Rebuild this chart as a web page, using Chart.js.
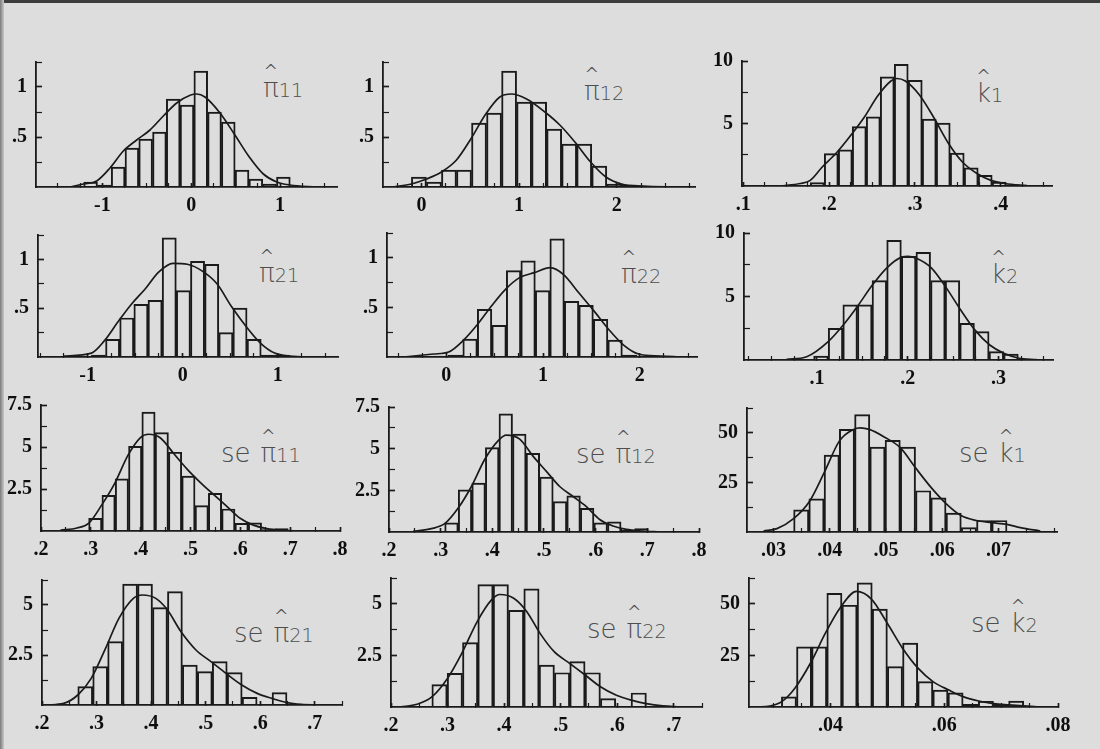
<!DOCTYPE html>
<html lang="en">
<head>
<meta charset="UTF-8">
<title>Sampling distributions of the estimates</title>
<script src="https://cdn.jsdelivr.net/npm/chart.js"></script>
<style>
  body { margin: 0; background: #dddddd; }
  #page { position: relative; width: 1100px; height: 749px; overflow: hidden; background: #dddddd; }
  #page .edgeTop { position: absolute; left: 0; top: 0; width: 1100px; height: 3px; background: #3c3c3c; }
  #page .edgeLeft { position: absolute; left: 0; top: 0; width: 4px; height: 749px; background: linear-gradient(to right, #7a7a7a, #c8c8c8); }
  canvas.panel { position: absolute; }
  .lab { position: absolute; font-family: 'DejaVu Sans'; font-weight: 200; font-size: 26px; line-height: 26px; color: #4e4e4e; white-space: nowrap; }
  .lab .se { margin-right: 10px; }
  .lab .sym { position: relative; }
  .lab .hat { position: absolute; left: 50%; top: -15px; transform: translateX(-50%); font-size: 18px; line-height: 26px; }
  .lab .sub { font-size: 0.74em; }
</style>
</head>
<body>
<div id="page">
  <div class="edgeTop"></div>
  <div class="edgeLeft"></div>

  <div class="lab" style="left:263px;top:75px"><span class="sym">π<span class="hat">^</span></span><span class="sub">11</span></div>
  <div class="lab" style="left:584px;top:78px"><span class="sym">π<span class="hat">^</span></span><span class="sub">12</span></div>
  <div class="lab" style="left:976px;top:80px"><span class="sym">k<span class="hat">^</span></span><span class="sub">1</span></div>
  <div class="lab" style="left:259px;top:260px"><span class="sym">π<span class="hat">^</span></span><span class="sub">21</span></div>
  <div class="lab" style="left:621px;top:261px"><span class="sym">π<span class="hat">^</span></span><span class="sub">22</span></div>
  <div class="lab" style="left:991px;top:261px"><span class="sym">k<span class="hat">^</span></span><span class="sub">2</span></div>
  <div class="lab" style="left:221px;top:440px"><span class="se">se</span><span class="sym">π<span class="hat">^</span></span><span class="sub">11</span></div>
  <div class="lab" style="left:576px;top:441px"><span class="se">se</span><span class="sym">π<span class="hat">^</span></span><span class="sub">12</span></div>
  <div class="lab" style="left:959px;top:440px"><span class="se">se</span><span class="sym">k<span class="hat">^</span></span><span class="sub">1</span></div>
  <div class="lab" style="left:234px;top:620px"><span class="se">se</span><span class="sym">π<span class="hat">^</span></span><span class="sub">21</span></div>
  <div class="lab" style="left:587px;top:616px"><span class="se">se</span><span class="sym">π<span class="hat">^</span></span><span class="sub">22</span></div>
  <div class="lab" style="left:971px;top:610px"><span class="se">se</span><span class="sym">k<span class="hat">^</span></span><span class="sub">2</span></div>
</div>

<script>
// ---- pi11 ----
const pi11Bins = [-1.1325, -0.9775, -0.8225, -0.6675, -0.5125, -0.3575, -0.2025, -0.0475, 0.1075, 0.2625, 0.4175, 0.5725, 0.7275, 0.8825, 1.0375];
const pi11Heights = [0.05, 0.02, 0.2, 0.39, 0.48, 0.55, 0.88, 0.82, 1.16, 0.75, 0.65, 0.17, 0.08, 0.03, 0.1];
const pi11CurveX = [-1.364, -1.214, -1.064, -0.914, -0.764, -0.614, -0.464, -0.314, -0.163, -0.006, 0.062, 0.155, 0.324, 0.485, 0.654, 0.812, 0.962, 1.112, 1.412];
const pi11CurveY = [0, 0.03, 0.06, 0.19, 0.36, 0.47, 0.57, 0.71, 0.84, 0.92, 0.93, 0.9, 0.74, 0.53, 0.3, 0.13, 0.05, 0.02, 0];

// ---- pi12 ----
const pi12Bins = [-0.026, 0.128, 0.282, 0.436, 0.590, 0.744, 0.898, 1.052, 1.206, 1.360, 1.514, 1.668, 1.822, 1.976, 2.130];
const pi12Heights = [0.1, 0.05, 0.17, 0.17, 0.64, 0.74, 1.16, 0.85, 0.85, 0.58, 0.43, 0.43, 0.21, 0.03, 0.02];
const pi12CurveX = [-0.291, -0.103, 0.051, 0.205, 0.359, 0.506, 0.659, 0.803, 0.923, 1.077, 1.265, 1.418, 1.572, 1.733, 1.890, 2.051, 2.273, 2.615];
const pi12CurveY = [0, 0.03, 0.08, 0.15, 0.27, 0.48, 0.73, 0.9, 0.93, 0.88, 0.75, 0.62, 0.45, 0.25, 0.1, 0.03, 0.01, 0];

// ---- k1 ----
const k1Bins = [0.1862, 0.2025, 0.2188, 0.2351, 0.2514, 0.2677, 0.2840, 0.3003, 0.3166, 0.3329, 0.3492, 0.3655, 0.3818, 0.3981, 0.4144];
const k1Heights = [0.27, 2.6, 2.9, 4.75, 5.54, 8.73, 9.73, 8.46, 5.36, 5.04, 2.63, 1.46, 0.85, 0.32, 0.1];
const k1CurveX = [0.1431, 0.1664, 0.1780, 0.1917, 0.2091, 0.2246, 0.2409, 0.2565, 0.2720, 0.2790, 0.2887, 0.3050, 0.3217, 0.3391, 0.3555, 0.3722, 0.3885, 0.4052, 0.4305];
const k1CurveY = [0, 0.2, 0.45, 1.5, 2.7, 4.0, 5.5, 7.2, 8.4, 8.6, 8.4, 7.3, 5.5, 3.4, 1.9, 1.0, 0.45, 0.2, 0.03];

// ---- pi21 ----
const pi21Bins = [-0.8865, -0.7375, -0.5885, -0.4395, -0.2905, -0.1415, 0.0075, 0.1565, 0.3055, 0.4545, 0.6035, 0.7525, 0.9015, 1.0505];
const pi21Heights = [0.02, 0.18, 0.4, 0.54, 0.58, 1.22, 0.68, 0.98, 0.95, 0.25, 0.5, 0.18, 0.02, 0.02];
const pi21CurveX = [-1.260, -0.961, -0.821, -0.681, -0.540, -0.393, -0.253, -0.102, 0.049, 0.207, 0.361, 0.512, 0.670, 0.821, 0.968, 1.126, 1.407];
const pi21CurveY = [0.01, 0.04, 0.17, 0.36, 0.54, 0.7, 0.87, 0.96, 0.95, 0.88, 0.75, 0.52, 0.31, 0.14, 0.04, 0.01, 0];

// ---- pi22 ----
const pi22Bins = [-0.055, 0.095, 0.245, 0.395, 0.545, 0.695, 0.845, 0.995, 1.145, 1.295, 1.445, 1.595, 1.745, 1.895, 2.045];
const pi22Heights = [0.01, 0.02, 0.18, 0.48, 0.32, 0.87, 0.97, 0.67, 1.19, 0.56, 0.52, 0.38, 0.17, 0.02, 0.01];
const pi22CurveX = [-0.442, -0.132, 0.023, 0.178, 0.323, 0.471, 0.609, 0.757, 0.909, 1.074, 1.212, 1.367, 1.522, 1.677, 1.833, 1.988, 2.212, 2.419];
const pi22CurveY = [0, 0.03, 0.05, 0.17, 0.33, 0.52, 0.68, 0.8, 0.85, 0.9, 0.83, 0.65, 0.47, 0.28, 0.12, 0.03, 0.01, 0];

// ---- k2 ----
const k2Bins = [0.1044, 0.1205, 0.1366, 0.1527, 0.1688, 0.1850, 0.2011, 0.2172, 0.2333, 0.2494, 0.2655, 0.2817, 0.2978, 0.3139];
const k2Heights = [0.3, 2.5, 4.34, 4.34, 6.26, 9.42, 8.16, 8.47, 6.26, 6.26, 2.89, 2.24, 0.66, 0.47];
const k2CurveX = [0.0666, 0.0887, 0.1124, 0.1290, 0.1444, 0.1613, 0.1768, 0.1933, 0.2006, 0.2090, 0.2263, 0.2428, 0.2583, 0.2740, 0.2905, 0.3060, 0.3217, 0.3420];
const k2CurveY = [0.05, 0.26, 1.45, 2.76, 4.2, 5.92, 7.24, 8.1, 8.16, 8.03, 7.24, 5.66, 3.95, 2.37, 1.18, 0.53, 0.16, 0.03];

// ---- se pi11 ----
const sePi11Bins = [0.3089, 0.3356, 0.3623, 0.389, 0.4157, 0.4424, 0.4691, 0.4958, 0.5225, 0.5492, 0.5759, 0.6026, 0.6293, 0.656, 0.6827];
const sePi11Heights = [0.75, 2.12, 3.1, 5.04, 7.08, 5.86, 4.69, 3.27, 1.51, 2.24, 1.31, 0.45, 0.49, 0.08, 0.14];
const sePi11CurveX = [0.2387, 0.2722, 0.2955, 0.3223, 0.3490, 0.3744, 0.3991, 0.4157, 0.4392, 0.4658, 0.4927, 0.5194, 0.5460, 0.5729, 0.5996, 0.6262, 0.6531, 0.6864, 0.7198];
const sePi11CurveY = [0.04, 0.18, 0.45, 1.57, 2.9, 4.5, 5.55, 5.76, 5.55, 4.63, 3.7, 2.9, 2.18, 1.47, 0.76, 0.35, 0.14, 0.04, 0];

// ---- se pi12 ----
const sePi12Bins = [0.3209, 0.3472, 0.3734, 0.3997, 0.4260, 0.4522, 0.4785, 0.5047, 0.5310, 0.5573, 0.5835, 0.6098, 0.6360, 0.6623, 0.6886];
const sePi12Heights = [0.55, 2.53, 2.94, 5.06, 7.09, 5.87, 4.72, 3.3, 1.82, 2.17, 1.42, 0.55, 0.61, 0.1, 0.2];
const sePi12CurveX = [0.2465, 0.2821, 0.3078, 0.3336, 0.3595, 0.3852, 0.4110, 0.4272, 0.4530, 0.4787, 0.5046, 0.5304, 0.5561, 0.5820, 0.6078, 0.6335, 0.6594, 0.6916, 0.7239];
const sePi12CurveY = [0.04, 0.2, 0.5, 1.42, 2.73, 4.35, 5.47, 5.81, 5.57, 4.55, 3.64, 2.73, 2.13, 1.52, 0.75, 0.36, 0.16, 0.06, 0];

// ---- se k1 ----
const seK1Bins = [0.03493, 0.03764, 0.04035, 0.04306, 0.04577, 0.04848, 0.05119, 0.0539, 0.05661, 0.05932, 0.06203, 0.06474, 0.06745, 0.07016];
const seK1Heights = [11.2, 16.7, 38.8, 51.7, 59.2, 42.8, 46.2, 42.8, 20.8, 17.2, 9.5, 2.2, 5.8, 5.8];
const seK1CurveX = [0.02824, 0.03062, 0.03357, 0.03642, 0.03903, 0.04170, 0.04424, 0.04543, 0.04703, 0.04975, 0.05254, 0.05521, 0.05800, 0.06072, 0.06333, 0.06605, 0.06884, 0.07151, 0.07388, 0.07743];
const seK1CurveY = [0.5, 1.7, 6.7, 15.5, 30, 45.8, 51.7, 52.5, 51.7, 47.8, 42.5, 32.5, 22.5, 14.2, 8.3, 5.8, 4.7, 3.8, 2.2, 0.5];

// ---- se pi21 ----
const sePi21Bins = [0.2793, 0.3067, 0.3341, 0.3615, 0.3889, 0.4163, 0.4437, 0.4711, 0.4985, 0.5259, 0.5533, 0.5807, 0.6081, 0.6355];
const sePi21Heights = [0.92, 1.92, 3.17, 6.05, 6.05, 4.87, 5.67, 2.0, 1.67, 2.17, 1.62, 0.38, 0, 0.62];
const sePi21CurveX = [0.2092, 0.2398, 0.2656, 0.2902, 0.3165, 0.3410, 0.3675, 0.3841, 0.4086, 0.4301, 0.4546, 0.4822, 0.5098, 0.5374, 0.5663, 0.5945, 0.6216, 0.6492, 0.6755, 0.7063];
const sePi21CurveY = [0, 0.08, 0.5, 1.33, 2.83, 4.33, 5.33, 5.5, 5.33, 4.75, 3.67, 2.75, 2.17, 1.58, 1.0, 0.58, 0.33, 0.12, 0.03, 0];

// ---- se pi22 ----
const sePi22Bins = [0.2858, 0.3129, 0.34, 0.3671, 0.3942, 0.4213, 0.4484, 0.4755, 0.5026, 0.5297, 0.5568, 0.5839, 0.611, 0.6381];
const sePi22Heights = [1.09, 1.63, 3.12, 5.93, 5.93, 4.68, 5.72, 2.03, 1.66, 2.2, 1.66, 0.41, 0, 0.68];
const sePi22CurveX = [0.2164, 0.2458, 0.2723, 0.2998, 0.3252, 0.3527, 0.3781, 0.3928, 0.4163, 0.4399, 0.4633, 0.4886, 0.5162, 0.5439, 0.5704, 0.5986, 0.6250, 0.6515, 0.6808, 0.7102];
const sePi22CurveY = [0, 0.13, 0.49, 1.38, 2.6, 4.15, 5.2, 5.45, 5.28, 4.63, 3.58, 2.68, 2.11, 1.54, 0.98, 0.57, 0.33, 0.16, 0.05, 0];

// ---- se k2 ----
const seK2Bins = [0.03272, 0.03538, 0.03804, 0.04071, 0.04337, 0.04603, 0.04869, 0.05135, 0.05402, 0.05668, 0.05934, 0.062, 0.06466, 0.06733, 0.06999, 0.07265];
const seK2Heights = [4.9, 29.1, 29.1, 55.1, 49.3, 60.1, 47.4, 19.6, 31.0, 12.3, 8.2, 6.9, 1.3, 2.8, 1.3, 2.9];
const seK2CurveX = [0.02699, 0.02933, 0.03139, 0.03373, 0.03649, 0.03917, 0.04176, 0.04457, 0.04721, 0.04995, 0.05265, 0.05540, 0.05803, 0.06084, 0.06343, 0.06606, 0.06870, 0.07139, 0.07397, 0.07678];
const seK2CurveY = [0, 0.5, 2.5, 9, 21.2, 36, 48.2, 56, 52.3, 40.8, 28.6, 18.8, 12.3, 8.2, 4.9, 2.9, 1.6, 1.0, 0.5, 0];

// ---- tick marks and labelled ticks ----
const piXTicksA = [-1.5, -1.25, -1, -0.75, -0.5, -0.25, 0, 0.25, 0.5, 0.75, 1, 1.25, 1.5];
const piXLabelsA = [-1, 0, 1];
const piXTicksB = [-0.5, -0.25, 0, 0.25, 0.5, 0.75, 1, 1.25, 1.5, 1.75, 2, 2.25, 2.5, 2.75];
const piXLabelsB = [0, 1, 2];
const kXTicks = [0.025, 0.05, 0.075, 0.1, 0.125, 0.15, 0.175, 0.2, 0.225, 0.25, 0.275, 0.3, 0.325, 0.35, 0.375, 0.4, 0.425, 0.45];
const k1XLabels = [0.1, 0.2, 0.3, 0.4];
const k2XLabels = [0.1, 0.2, 0.3];
const seXTicks = [0.2, 0.25, 0.3, 0.35, 0.4, 0.45, 0.5, 0.55, 0.6, 0.65, 0.7, 0.75, 0.8];
const seXLabels = [0.2, 0.3, 0.4, 0.5, 0.6, 0.7, 0.8];
const seKXTicks = [0.025, 0.03, 0.035, 0.04, 0.045, 0.05, 0.055, 0.06, 0.065, 0.07, 0.075, 0.08];
const seK1XLabels = [0.03, 0.04, 0.05, 0.06, 0.07];
const seK2XLabels = [0.04, 0.06, 0.08];

const piYTicks = [0.25, 0.5, 0.75, 1, 1.25];
const piYLabels = [0.5, 1];
const kYTicks = [2.5, 5, 7.5, 10];
const kYLabels = [5, 10];
const seYTicksA = [1.25, 2.5, 3.75, 5, 6.25, 7.5];
const seYLabelsA = [2.5, 5, 7.5];
const seYTicksB = [1.25, 2.5, 3.75, 5, 6.25];
const seYLabelsB = [2.5, 5];
const seKYTicks = [12.5, 25, 37.5, 50, 62.5];
const seKYLabels = [25, 50];

// panel layout: box = [axis left, axis top, axis bottom, axis right] in page pixels
const panels = [
  { bins: pi11Bins, h: pi11Heights, cx: pi11CurveX, cy: pi11CurveY, xt: piXTicksA, xl: piXLabelsA, yt: piYTicks, yl: piYLabels, xMin: -1.747, xMax: 1.641, yMax: 1.25, box: [36, 62, 187, 337] },
  { bins: pi12Bins, h: pi12Heights, cx: pi12CurveX, cy: pi12CurveY, xt: piXTicksB, xl: piXLabelsB, yt: piYTicks, yl: piYLabels, xMin: -0.394, xMax: 2.803, yMax: 1.25, box: [383, 62, 187, 695] },
  { bins: k1Bins, h: k1Heights, cx: k1CurveX, cy: k1CurveY, xt: kXTicks, xl: k1XLabels, yt: kYTicks, yl: kYLabels, xMin: 0.0985, xMax: 0.4596, yMax: 10, box: [742, 61, 186, 1052] },
  { bins: pi21Bins, h: pi21Heights, cx: pi21CurveX, cy: pi21CurveY, xt: piXTicksA, xl: piXLabelsA, yt: piYTicks, yl: piYLabels, xMin: -1.523, xMax: 1.635, yMax: 1.25, box: [38, 235, 357, 338] },
  { bins: pi22Bins, h: pi22Heights, cx: pi22CurveX, cy: pi22CurveY, xt: piXTicksB, xl: piXLabelsB, yt: piYTicks, yl: piYLabels, xMin: -0.614, xMax: 2.592, yMax: 1.25, box: [387, 233, 357, 697] },
  { bins: k2Bins, h: k2Heights, cx: k2CurveX, cy: k2CurveY, xt: kXTicks, xl: k2XLabels, yt: kYTicks, yl: kYLabels, xMin: 0.0196, xMax: 0.3602, yMax: 10, box: [744, 233, 360, 1053] },
  { bins: sePi11Bins, h: sePi11Heights, cx: sePi11CurveX, cy: sePi11CurveY, xt: seXTicks, xl: seXLabels, yt: seYTicksA, yl: seYLabelsA, xMin: 0.2, xMax: 0.8, yMax: 7.5, box: [41, 405, 531, 340] },
  { bins: sePi12Bins, h: sePi12Heights, cx: sePi12CurveX, cy: sePi12CurveY, xt: seXTicks, xl: seXLabels, yt: seYTicksA, yl: seYLabelsA, xMin: 0.2, xMax: 0.8, yMax: 7.5, box: [389, 407, 532, 699] },
  { bins: seK1Bins, h: seK1Heights, cx: seK1CurveX, cy: seK1CurveY, xt: seKXTicks, xl: seK1XLabels, yt: seKYTicks, yl: seKYLabels, xMin: 0.02529, xMax: 0.0804, yMax: 62.5, box: [747, 408, 532, 1057] },
  { bins: sePi21Bins, h: sePi21Heights, cx: sePi21CurveX, cy: sePi21CurveY, xt: seXTicks, xl: seXLabels, yt: seYTicksB, yl: seYLabelsB, xMin: 0.2, xMax: 0.75, yMax: 6.25, box: [42, 580, 705, 342] },
  { bins: sePi22Bins, h: sePi22Heights, cx: sePi22CurveX, cy: sePi22CurveY, xt: seXTicks, xl: seXLabels, yt: seYTicksB, yl: seYLabelsB, xMin: 0.2, xMax: 0.75, yMax: 6.25, box: [391, 578, 707, 702] },
  { bins: seK2Bins, h: seK2Heights, cx: seK2CurveX, cy: seK2CurveY, xt: seKXTicks, xl: seK2XLabels, yt: seKYTicks, yl: seKYLabels, xMin: 0.0257, xMax: 0.08, yMax: 62.5, box: [749, 578, 707, 1058] }
];

const INK = '#1a1a1a';
const PAD_L = 40, PAD_T = 14, PAD_R = 16, PAD_B = 34;

Chart.defaults.font.family = "'Liberation Serif', serif";

function isLabelled(v, list) {
  return list.some(l => Math.abs(l - v) < 1e-9);
}
function fmt(v) {
  let s = String(+v.toFixed(4));
  if (s.startsWith('0.')) s = s.slice(1);
  return s;
}
// keep the axis boxes exactly where the layout says
function noPad(s) {
  s.paddingTop = 0; s.paddingBottom = 0; s.paddingLeft = 0; s.paddingRight = 0;
}

const page = document.getElementById('page');

panels.forEach(p => {
  const [axL, axT, axB, axR] = p.box;
  const cv = document.createElement('canvas');
  cv.className = 'panel';
  cv.width = axR - axL + PAD_L + PAD_R;
  cv.height = axB - axT + PAD_T + PAD_B;
  cv.style.left = (axL - PAD_L) + 'px';
  cv.style.top = (axT - PAD_T) + 'px';
  page.appendChild(cv);

  new Chart(cv, {
    type: 'bar',
    data: {
      datasets: [
        {
          type: 'line',
          data: p.cx.map((x, i) => ({ x: x, y: p.cy[i] })),
          borderColor: INK,
          borderWidth: 1.7,
          pointRadius: 0,
          cubicInterpolationMode: 'monotone',
          order: 1
        },
        {
          type: 'bar',
          data: p.bins.map((x, i) => ({ x: x, y: p.h[i] })),
          backgroundColor: 'rgba(0,0,0,0)',
          borderColor: INK,
          borderWidth: 1.3,
          barThickness: 'flex',
          barPercentage: 1,
          categoryPercentage: 1,
          order: 2
        }
      ]
    },
    options: {
      responsive: false,
      animation: false,
      layout: { padding: { top: PAD_T, right: PAD_R, left: 0, bottom: 0 } },
      plugins: { legend: { display: false }, tooltip: { enabled: false } },
      scales: {
        x: {
          type: 'linear',
          min: p.xMin,
          max: p.xMax,
          offset: false,
          afterFit: s => { s.height = PAD_B; noPad(s); },
          afterBuildTicks: s => {
            s.ticks = p.xt.filter(v => v >= p.xMin - 1e-9 && v <= p.xMax + 1e-9).map(v => ({ value: v }));
          },
          grid: {
            drawOnChartArea: false,
            offset: false,
            color: INK,
            tickLength: -4,
            tickWidth: c => (c.tick && isLabelled(c.tick.value, p.xl)) ? 1.7 : 1.2
          },
          border: { color: INK, width: 1.8 },
          ticks: {
            autoSkip: false,
            maxRotation: 0,
            padding: 11,
            color: '#0e0e0e',
            font: { size: 20, weight: 'bold' },
            callback: v => isLabelled(v, p.xl) ? fmt(v) : ''
          }
        },
        y: {
          min: 0,
          max: p.yMax,
          afterFit: s => { s.width = PAD_L; noPad(s); },
          afterBuildTicks: s => {
            s.ticks = p.yt.map(v => ({ value: v }));
          },
          grid: {
            drawOnChartArea: false,
            color: INK,
            tickLength: -6,
            tickWidth: c => (c.tick && isLabelled(c.tick.value, p.yl)) ? 1.7 : 1.2
          },
          border: { color: INK, width: 1.8 },
          ticks: {
            autoSkip: false,
            padding: 15,
            color: '#0e0e0e',
            font: { size: 20, weight: 'bold' },
            callback: v => isLabelled(v, p.yl) ? fmt(v) : ''
          }
        }
      }
    }
  });
});
</script>
</body>
</html>
